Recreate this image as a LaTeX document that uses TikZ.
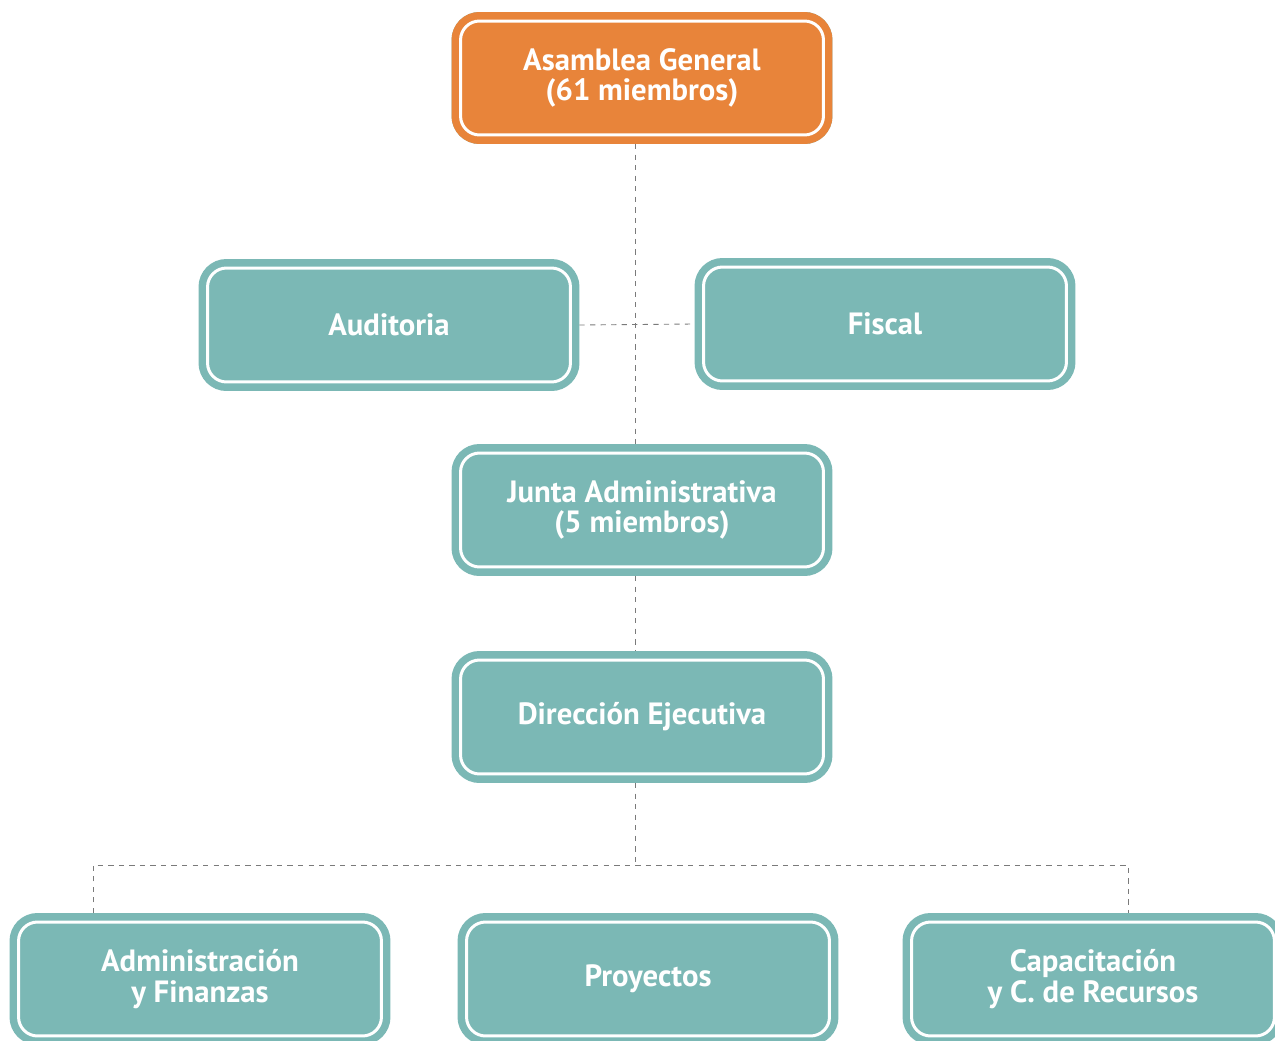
\documentclass[tikz,border=0pt]{standalone}
\usepackage{fontspec}
\setmainfont{PT Sans}
\usepackage{tikz}
\usetikzlibrary{positioning}
\definecolor{orgcol}{HTML}{E8843A}
\definecolor{tealcol}{HTML}{7BB8B5}
\definecolor{linkcol}{HTML}{7A7A7A}
\tikzset{
    orgbox/.style = {
        align=center,
        inner sep=0pt,
        text centered,
        font=\fontsize{17.5}{17.2}\selectfont\bfseries,
        text=white,
        rectangle,
        rounded corners=0.38cm,
        draw=white,
        line width=0.06cm,
        fill=tealcol,
        preaction={draw=tealcol, line width=0.36cm},
        outer sep=0.18cm,
        minimum width=7.26cm,
        minimum height=2.28cm
    },
    headbox/.style = {
        orgbox,
        fill=orgcol,
        preaction={draw=orgcol, line width=0.36cm}
    },
    link/.style = {
        draw=linkcol,
        line width=0.5pt,
        dash pattern=on 3pt off 3pt
    }
}
\begin{document}
\begin{tikzpicture}[x=0.02cm, y=-0.02cm]
    \useasboundingbox (0,0) rectangle (1275,1041);
    % boxes
    \node [headbox] (asamblea) at (642,78) {Asamblea General\\(61 miembros)};
    \node [orgbox] (auditoria) at (389,325) {Auditoria};
    \node [orgbox] (fiscal) at (885,324) {Fiscal};
    \node [orgbox] (junta) at (642,510) {Junta Administrativa\\(5 miembros)};
    \node [orgbox] (direccion) at (642,717) {Dirección Ejecutiva};
    \node [orgbox] (admin) at (200,979) {Administración\\y Finanzas};
    \node [orgbox] (proyectos) at (648,979) {Proyectos};
    \node [orgbox] (capac) at (1093,979) {Capacitación\\y C. de Recursos};
    % dashed links
    \coordinate (spine) at (635,0);
    \coordinate (bus) at (635,865);
    \coordinate (busL) at (93,865);
    \coordinate (busR) at (1128,865);
    \draw [link] (asamblea.south -| spine) -- (junta.north -| spine);
    \draw [link] (auditoria.east) -- (fiscal.west);
    \draw [link] (junta.south -| spine) -- (direccion.north -| spine);
    \draw [link] (direccion.south -| spine) -- (bus);
    \draw [link] (admin.north -| busL) -- (busL) -- (busR) -- (capac.north -| busR);
\end{tikzpicture}
\end{document}
